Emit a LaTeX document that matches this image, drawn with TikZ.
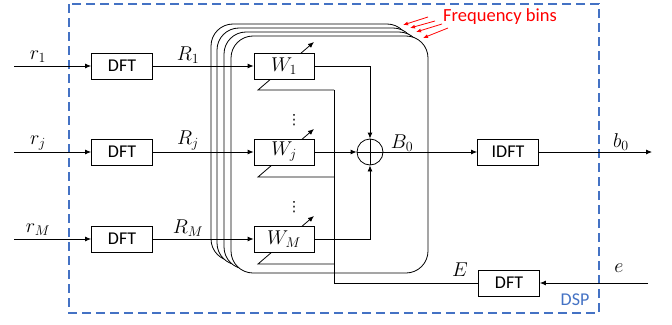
\RequirePackage{fix-cm}
\documentclass[tikz,border=0pt]{standalone}
\usepackage{fontspec}
\setmainfont{Carlito}
\newfontfamily\dejavu{DejaVu Sans}
\usetikzlibrary{arrows.meta}
\definecolor{dspblue}{HTML}{4472C4}
\begin{document}
\begin{tikzpicture}[x=1pt,y=-1pt,
  line width=0.8pt,
  >={Latex[length=6pt,width=5pt]},
  blk/.style={draw,fill=white,minimum width=61pt,minimum height=26pt,inner sep=0pt,font=\fontsize{18}{20}\selectfont},
  wbox/.style={draw,fill=white,minimum width=60pt,minimum height=26pt,inner sep=0pt,font=\fontsize{20}{22}\selectfont},
  bin/.style={draw,fill=white,rounded corners=22pt},
  lbl/.style={font=\fontsize{20}{22}\selectfont,inner sep=0pt},
  vdot/.style={font=\dejavu\fontsize{14}{14}\selectfont,inner sep=0pt},
  redarrow/.style={red,->,>={Latex[length=5pt,width=4pt]}},
]
\useasboundingbox (0,0) rectangle (672,324);
% DSP boundary
\draw[dspblue,line width=1.4pt,dash pattern=on 9pt off 5pt] (69,4) rectangle (599,313);
\node[dspblue,font=\fontsize{18}{20}\selectfont,inner sep=0pt] (dsp) at (575,300) {DSP};
% frequency-bin stack
\draw[bin] (211,24) rectangle (409,261);
\draw[bin] (217,28) rectangle (415,265);
\draw[bin] (224,32) rectangle (421,269);
\draw[bin] (231,36) rectangle (428,273);
% feedback network
\coordinate (fbtop) at (334,90);
\coordinate (fbj) at (334,177);
\coordinate (fbM) at (334,264);
\coordinate (fbbot) at (334,283);
\coordinate (a1) at (258,90);
\coordinate (aj) at (258,177);
\coordinate (aM) at (258,264);
\coordinate (t1) at (314,42);
\coordinate (tj) at (314,129);
\coordinate (tM) at (314,216);
\draw[->] (fbtop) -- (a1) -- (t1);
\draw[->] (fbj) -- (aj) -- (tj);
\draw[->] (fbM) -- (aM) -- (tM);
% nodes
\node[blk] (dft1) at (122,66) {DFT};
\node[blk] (dftj) at (122,152) {DFT};
\node[blk] (dftM) at (122,239) {DFT};
\node[wbox] (w1) at (284,66) {$W_1$};
\node[wbox] (wj) at (284,152) {$W_j$};
\node[wbox] (wM) at (284,239) {$W_M$};
\node[draw,circle,minimum size=26pt,inner sep=0pt] (s) at (370,152) {};
\draw (s.north) -- (s.south) (s.west) -- (s.east);
\node[blk] (idft) at (508,152) {IDFT};
\node[blk] (dfte) at (509,283) {DFT};
\node[vdot] (dots1) at (294,120) {⋮};
\node[vdot] (dots2) at (294,207) {⋮};
% inputs
\coordinate (in1) at (14,66);
\coordinate (inj) at (14,152);
\coordinate (inM) at (14,239);
\coordinate (out) at (652,152);
\coordinate (ein) at (648,283);
\draw[->] (in1) -- (dft1);
\draw[->] (inj) -- (dftj);
\draw[->] (inM) -- (dftM);
\draw[->] (dft1) -- (w1);
\draw[->] (dftj) -- (wj);
\draw[->] (dftM) -- (wM);
\draw[->] (w1.east) -| (s.north);
\draw[->] (wj.east) -- (s.west);
\draw[->] (wM.east) -| (s.south);
\draw[->] (s.east) -- (idft.west);
\draw[->] (idft.east) -- (out);
\draw[->] (ein) -- (dfte.east);
\draw (dfte.west) -- (fbbot) -- (fbtop);
% labels
\node[lbl] (lr1) at (38,57) {$r_1$};
\node[lbl] (lrj) at (38,143) {$r_j$};
\node[lbl] (lrM) at (38,230) {$r_M$};
\node[lbl] (lR1) at (188,55) {$R_1$};
\node[lbl] (lRj) at (188,141) {$R_j$};
\node[lbl] (lRM) at (188,228) {$R_M$};
\node[lbl] (lB0) at (402,143) {$B_0$};
\node[lbl] (lb0) at (621,142) {$b_0$};
\node[lbl] (lE) at (460,270) {$E$};
\node[lbl] (le) at (619,268) {$e$};
% frequency bins annotation
\node[red,font=\fontsize{18.5}{20}\selectfont,inner sep=0pt] (fb) at (500,17) {Frequency bins};
\coordinate (r1s) at (428,17); \coordinate (r1e) at (403,25);
\coordinate (r2s) at (435,21); \coordinate (r2e) at (410,28);
\coordinate (r3s) at (442,24); \coordinate (r3e) at (416,32);
\coordinate (r4s) at (448,28); \coordinate (r4e) at (423,38);
\draw[redarrow] (r1s) -- (r1e);
\draw[redarrow] (r2s) -- (r2e);
\draw[redarrow] (r3s) -- (r3e);
\draw[redarrow] (r4s) -- (r4e);
\end{tikzpicture}
\end{document}
